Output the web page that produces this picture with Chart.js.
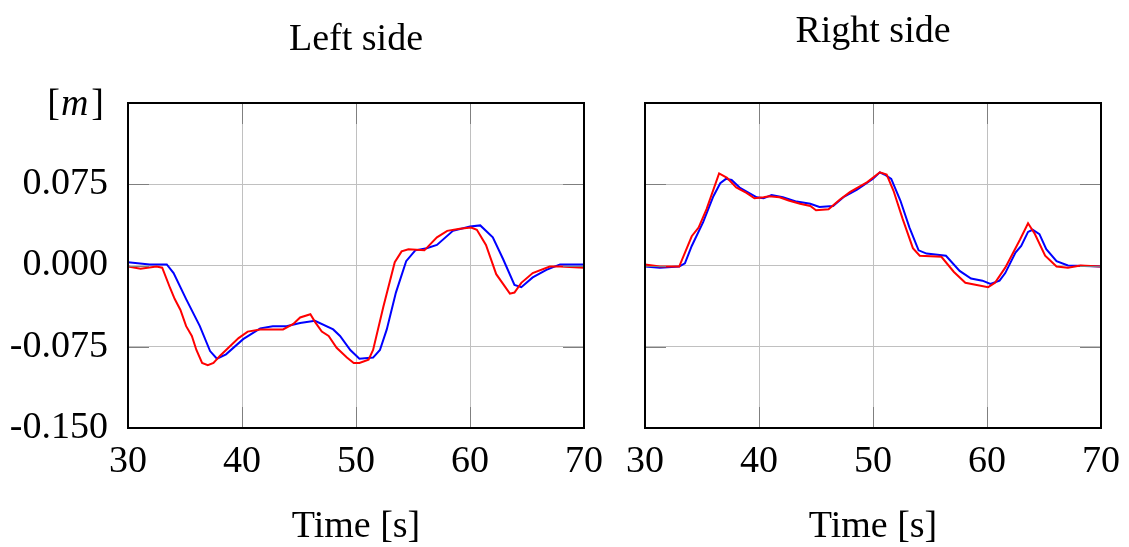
<!DOCTYPE html>
<html>
<head>
<meta charset="utf-8">
<script src="https://cdn.jsdelivr.net/npm/chart.js@4/dist/chart.umd.min.js"></script>
<style>
  html, body { margin: 0; padding: 0; background: #ffffff; }
  #wrap { position: relative; width: 1129px; height: 547px; overflow: hidden; background: #fff; }
  .box { position: absolute; top: 0; }
</style>
</head>
<body>
<div id="wrap">
  <div class="box" style="left:0px;"><canvas id="leftChart" width="640" height="547"></canvas></div>
  <div class="box" style="left:600px;"><canvas id="rightChart" width="560" height="547"></canvas></div>
</div>
<script>
// ---- data ----
const titles = ["Left side", "Right side"];
const xTitle = "Time [s]";
const xTicks = [30, 40, 50, 60, 70];
const yTicks = [-0.150, -0.075, 0.000, 0.075, 0.150];

const leftRedT = [30,31.1,32.5,33.0,33.7,34.1,34.6,35.1,35.6,36.0,36.5,37.0,37.5,38.1,38.9,39.7,40.5,41.6,43.6,44.5,45.1,46.0,46.4,47.0,47.6,48.3,49.2,49.8,50.3,51.1,51.5,52.4,53.4,54.0,54.6,56.0,57.1,58.0,59.1,60.1,60.6,61.4,62.3,63.5,63.9,64.5,65.5,67.0,67.9,70];
const leftRedV = [-0.001,-0.003,-0.001,-0.002,-0.021,-0.031,-0.041,-0.056,-0.065,-0.078,-0.090,-0.092,-0.090,-0.083,-0.075,-0.067,-0.061,-0.059,-0.059,-0.054,-0.048,-0.045,-0.052,-0.061,-0.065,-0.076,-0.085,-0.090,-0.090,-0.087,-0.078,-0.038,0.003,0.013,0.015,0.014,0.026,0.032,0.034,0.035,0.033,0.019,-0.008,-0.026,-0.025,-0.016,-0.007,-0.001,-0.001,-0.002];

const leftBlueT = [30,31.9,33.4,34.0,35.1,36.3,37.2,37.8,38.6,40.1,41.6,42.7,43.9,45.1,46.4,48.0,48.6,49.5,50.3,51.5,52.1,52.7,53.5,54.4,55.2,56.2,57.1,58.5,60.0,60.9,62.0,62.9,63.9,64.5,65.5,66.7,67.9,70];
const leftBlueV = [0.003,0.001,0.001,-0.007,-0.031,-0.056,-0.079,-0.086,-0.082,-0.068,-0.058,-0.056,-0.056,-0.053,-0.051,-0.059,-0.065,-0.078,-0.086,-0.085,-0.078,-0.059,-0.025,0.004,0.014,0.016,0.019,0.032,0.036,0.037,0.026,0.006,-0.018,-0.020,-0.011,-0.004,0.001,0.001];

const rightRedT = [30,31.3,33.0,34.1,34.7,35.4,36.5,37.2,38.0,38.9,39.6,40.4,40.9,41.8,42.6,43.6,44.5,45.0,46.1,47.1,48.0,49.5,50.6,51.2,51.8,52.6,53.5,54.1,56.0,57.1,58.1,59.1,60.1,60.7,61.6,62.2,62.9,63.6,64.2,65.1,66.1,67.1,68.2,70];
const rightRedV = [0.001,-0.001,-0.001,0.027,0.035,0.052,0.085,0.081,0.072,0.067,0.062,0.063,0.064,0.063,0.060,0.057,0.055,0.051,0.052,0.061,0.068,0.077,0.086,0.084,0.069,0.043,0.016,0.009,0.008,-0.006,-0.016,-0.018,-0.020,-0.016,-0.002,0.010,0.024,0.039,0.029,0.009,-0.001,-0.002,0.000,-0.001];

const rightBlueT = [30,31.3,33.0,33.5,34.1,35.1,36.0,36.6,37.1,37.6,38.3,39.8,40.4,41.1,42.1,43.3,44.5,45.3,46.5,47.4,48.6,50.0,50.6,51.0,51.6,52.4,53.2,54.0,54.7,56.4,57.6,58.6,59.6,60.3,61.1,61.6,62.5,63.0,63.6,64.0,64.6,65.2,66.1,67.1,70];
const rightBlueV = [-0.001,-0.002,-0.001,0.002,0.018,0.040,0.064,0.076,0.080,0.079,0.072,0.063,0.062,0.065,0.063,0.059,0.057,0.054,0.055,0.063,0.070,0.080,0.086,0.084,0.080,0.060,0.035,0.014,0.011,0.009,-0.005,-0.012,-0.014,-0.017,-0.014,-0.007,0.012,0.018,0.031,0.033,0.029,0.015,0.004,0.000,-0.001];

// ---- helpers ----
const FONT = "'Liberation Serif', 'Times New Roman', serif";
const FS = 38;
function pts(t, v) { return t.map((x, i) => ({ x: x, y: v[i] })); }

const framePlugin = {
  id: 'frame',
  afterDraw(chart) {
    const ctx = chart.ctx, a = chart.chartArea;
    const xs = chart.scales.x, ys = chart.scales.y;
    ctx.save();
    ctx.strokeStyle = '#7f7f7f';
    ctx.lineWidth = 1;
    const L = 21;
    yTicks.forEach(v => {
      const py = Math.round(ys.getPixelForValue(v)) + 0.5;
      ctx.beginPath();
      ctx.moveTo(a.left, py); ctx.lineTo(a.left + L, py);
      ctx.moveTo(a.right - L, py); ctx.lineTo(a.right, py);
      ctx.stroke();
    });
    xTicks.forEach(v => {
      const px = Math.round(xs.getPixelForValue(v)) + 0.5;
      ctx.beginPath();
      ctx.moveTo(px, a.bottom); ctx.lineTo(px, a.bottom - L);
      ctx.moveTo(px, a.top); ctx.lineTo(px, a.top + L);
      ctx.stroke();
    });
    ctx.strokeStyle = '#000000';
    ctx.lineWidth = 2;
    ctx.strokeRect(a.left, a.top, a.right - a.left, a.bottom - a.top);
    // chart title centred over the plot area
    const t = chart.options.plugins.plotTitle;
    ctx.fillStyle = '#000';
    ctx.font = FS + 'px ' + FONT;
    ctx.textAlign = 'center';
    ctx.textBaseline = 'alphabetic';
    ctx.fillText(t.text, (a.left + a.right) / 2, t.baseline);
    ctx.restore();
  }
};

const unitPlugin = {
  id: 'unitLabel',
  afterDraw(chart) {
    if (chart.canvas.id !== 'leftChart') return;
    const ctx = chart.ctx;
    ctx.save();
    ctx.fillStyle = '#000';
    ctx.textBaseline = 'alphabetic';
    ctx.textAlign = 'left';
    const base = 115;
    const right = 104;
    ctx.font = FS + 'px ' + FONT;
    const wb1 = ctx.measureText('[').width;
    const wb2 = ctx.measureText(']').width;
    ctx.font = 'italic ' + FS + 'px ' + FONT;
    const wm = ctx.measureText('m').width;
    let x = right - (wb1 + wm + wb2 + 4);
    ctx.font = FS + 'px ' + FONT;
    ctx.fillText('[', x, base); x += wb1 + 1;
    ctx.font = 'italic ' + FS + 'px ' + FONT;
    ctx.fillText('m', x, base); x += wm + 3;
    ctx.font = FS + 'px ' + FONT;
    ctx.fillText(']', x, base);
    ctx.restore();
  }
};

function makeChart(id, title, redT, redV, blueT, blueV, isLeft) {
  return new Chart(document.getElementById(id), {
    type: 'line',
    data: {
      datasets: [
        { data: pts(redT, redV), borderColor: '#ff0000', borderWidth: 2, pointRadius: 0, tension: 0, fill: false },
        { data: pts(blueT, blueV), borderColor: '#0000ff', borderWidth: 2, pointRadius: 0, tension: 0, fill: false }
      ]
    },
    options: {
      responsive: false,
      animation: false,
      events: [],
      layout: { padding: isLeft ? { left: 0, right: 56, top: 103, bottom: 0 } : { left: 45, right: 59, top: 103, bottom: 0 } },
      plugins: {
        legend: { display: false },
        tooltip: { enabled: false },
        title: { display: false },
        plotTitle: { text: title, baseline: isLeft ? 50 : 42 }
      },
      scales: {
        x: {
          type: 'linear',
          min: 30, max: 70,
          afterBuildTicks(s) { s.ticks = xTicks.map(v => ({ value: v })); },
          afterFit(s) { s.height = 119; },
          ticks: {
            color: '#000',
            padding: 15,
            maxRotation: 0,
            font: { family: FONT, size: FS, lineHeight: 1 },
            callback: v => String(v)
          },
          grid: { color: '#c0c0c0', lineWidth: 1, drawTicks: false },
          border: { display: false },
          title: {
            display: true,
            text: xTitle,
            color: '#000',
            font: { family: FONT, size: FS, lineHeight: 1 },
            padding: { top: 0, bottom: 1 }
          }
        },
        y: {
          type: 'linear',
          min: -0.15, max: 0.15,
          afterBuildTicks(s) { s.ticks = yTicks.map(v => ({ value: v })); },
          afterFit(s) { s.width = isLeft ? 128 : 0; },
          ticks: {
            display: isLeft,
            color: '#000',
            padding: 20,
            font: { family: FONT, size: FS, lineHeight: 1 },
            callback: v => (Math.abs(v - 0.15) < 1e-9 ? '' : v.toFixed(3))
          },
          grid: { color: '#c0c0c0', lineWidth: 1, drawTicks: false },
          border: { display: false }
        }
      }
    },
    plugins: [framePlugin, unitPlugin]
  });
}

makeChart('leftChart', titles[0], leftRedT, leftRedV, leftBlueT, leftBlueV, true);
makeChart('rightChart', titles[1], rightRedT, rightRedV, rightBlueT, rightBlueV, false);
</script>
</body>
</html>
